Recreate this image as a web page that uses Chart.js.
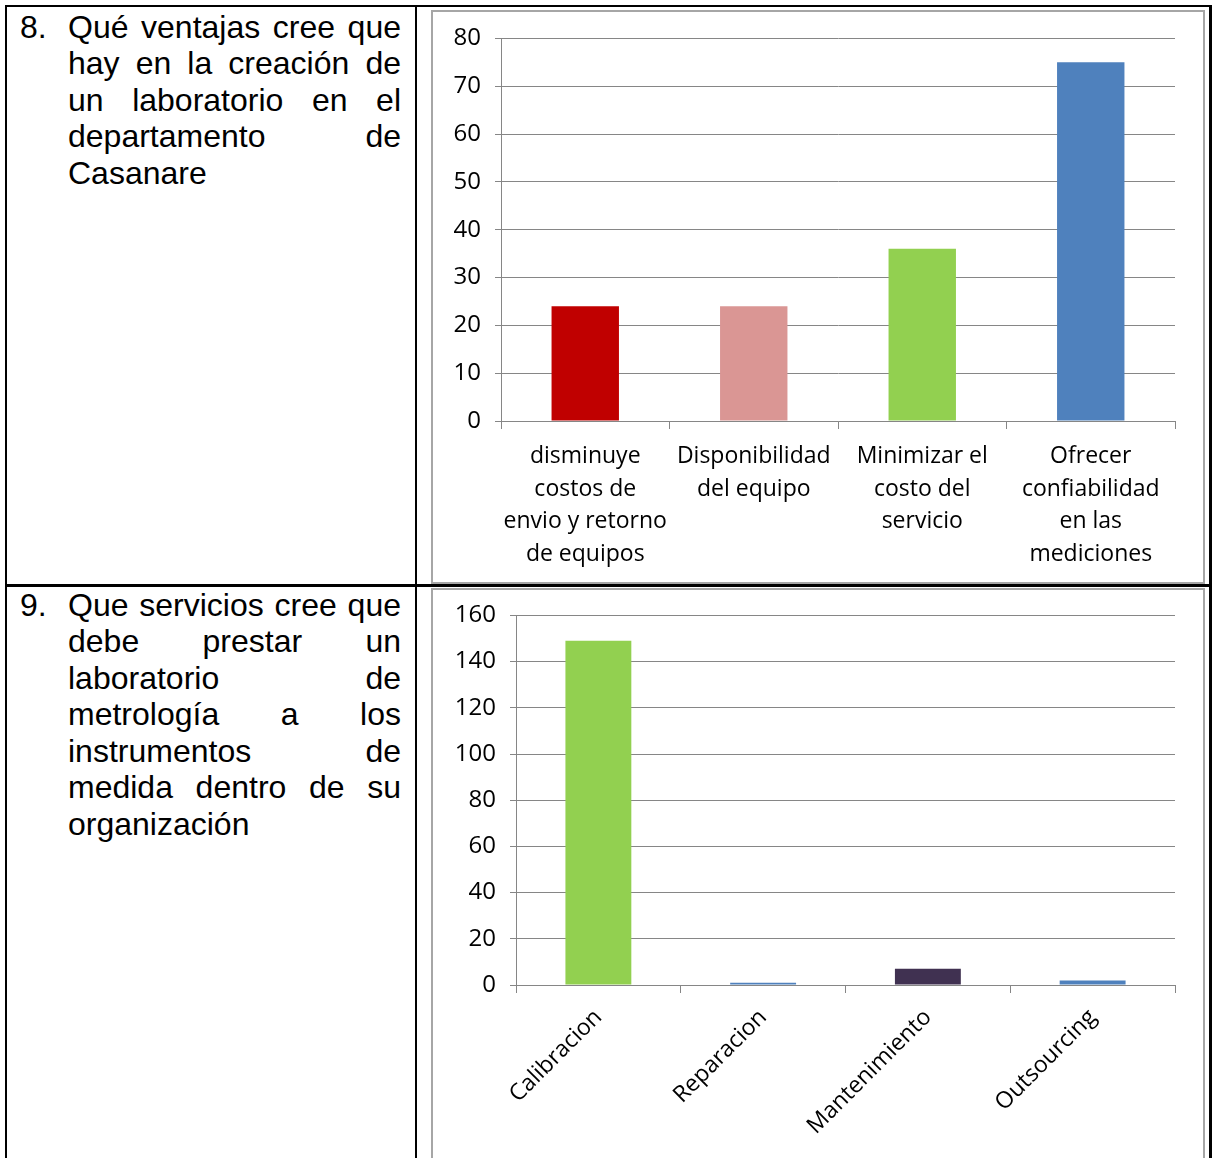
<!DOCTYPE html>
<html>
<head>
<meta charset="utf-8">
<script src="https://cdn.jsdelivr.net/npm/chart.js@4"></script>
<style>
  html, body { margin: 0; padding: 0; background: #fff; }
  body { width: 1214px; height: 1158px; position: relative; overflow: hidden; }
  .line { position: absolute; background: #000; }
  .frame { position: absolute; border: 2px solid #a6a6a6; box-sizing: border-box; }
  .num { position: absolute; left: 20px; font: 32px "Liberation Sans", Arial, sans-serif; line-height: 36.5px; color: #000; }
  .q { position: absolute; left: 68px; width: 333px; font: 32px "Liberation Sans", Arial, sans-serif;
       line-height: 36.5px; text-align: justify; color: #000; margin: 0; }
  .box { position: absolute; }
</style>
</head>
<body>
<!-- table rules -->
<div class="line" style="left:5px; top:5px; width:1207px; height:2px"></div>
<div class="line" style="left:5px; top:584px; width:1207px; height:3px"></div>
<div class="line" style="left:5px; top:5px; width:2px; height:1153px"></div>
<div class="line" style="left:415px; top:5px; width:2px; height:1153px"></div>
<div class="line" style="left:1209px; top:5px; width:3px; height:1153px"></div>

<div class="num" style="top:8.5px">8.</div>
<p class="q" style="top:8.5px">Qué ventajas cree que hay en la creación de un laboratorio en el departamento de Casanare</p>
<div class="num" style="top:586.5px">9.</div>
<p class="q" style="top:586.5px">Que servicios cree que debe prestar un laboratorio de metrología a los instrumentos de medida dentro de su organización</p>

<div class="frame" style="left:431px; top:10px; width:774px; height:574px"></div>
<div class="frame" style="left:431px; top:588px; width:774px; height:580px"></div>

<div class="box" style="left:434px; top:10px; width:768px; height:572px"><canvas id="ventajas"></canvas></div>
<div class="box" style="left:434px; top:587px; width:768px; height:571px"><canvas id="servicios"></canvas></div>

<script>
// Pregunta 8
const ventajasLabels = [
    ["disminuye", "costos de", "envio y retorno", "de equipos"],
    ["Disponibilidad", "del equipo"],
    ["Minimizar el", "costo del", "servicio"],
    ["Ofrecer", "confiabilidad", "en las", "mediciones"]
];
const ventajasValues = [24, 24, 36, 75];
const ventajasMax = 80;
const ventajasStep = 10;

// Pregunta 9
const serviciosLabels = ["Calibracion", "Reparacion", "Mantenimiento", "Outsourcing"];
const serviciosValues = [149, 1, 7, 2];
const serviciosMax = 160;
const serviciosStep = 20;

const ventajasColors = ["#c00000", "#da9694", "#92d050", "#4f81bd"];
const serviciosColors = ["#92d050", "#4f81bd", "#403151", "#4f81bd"];

const axisGray = "#868686";
const fontFamily = "'Open Sans', sans-serif";

function makeBarChart(id, labels, values, colors, max, step, opts) {
    return new Chart(document.getElementById(id).getContext("2d"), {
        type: "bar",
        data: {
            labels,
            datasets: [{
                data: values,
                backgroundColor: colors,
                barPercentage: 0.4,
                categoryPercentage: 1.0
            }]
        },
        options: {
            responsive: true,
            maintainAspectRatio: false,
            animation: false,
            layout: { padding: { left: 0, right: 27, top: opts.top, bottom: 0 } },
            plugins: {
                legend: { display: false },
                tooltip: { enabled: false }
            },
            scales: {
                x: {
                    grid: { display: true, drawOnChartArea: false, offset: true, tickLength: 8, color: axisGray },
                    border: { color: axisGray },
                    ticks: {
                        color: "#000",
                        autoSkip: false,
                        padding: opts.xPad,
                        minRotation: opts.rot,
                        maxRotation: opts.rot,
                        font: { family: fontFamily, size: 23, lineHeight: 1.42 }
                    },
                    afterFit: s => { s.height = opts.xHeight; }
                },
                y: {
                    min: 0,
                    max,
                    grid: { color: axisGray, tickLength: 6 },
                    border: { color: axisGray },
                    ticks: { stepSize: step, color: "#000", padding: 14, font: { family: fontFamily, size: 24 } },
                    afterFit: s => { s.width = opts.yWidth; }
                }
            }
        }
    });
}

makeBarChart("ventajas", ventajasLabels, ventajasValues, ventajasColors, ventajasMax, ventajasStep,
    { top: 20, xPad: 11, rot: 0, xHeight: 161, yWidth: 67 });
makeBarChart("servicios", serviciosLabels, serviciosValues, serviciosColors, serviciosMax, serviciosStep,
    { top: 20, xPad: 9, rot: 45, xHeight: 173, yWidth: 82 });
</script>
</body>
</html>
